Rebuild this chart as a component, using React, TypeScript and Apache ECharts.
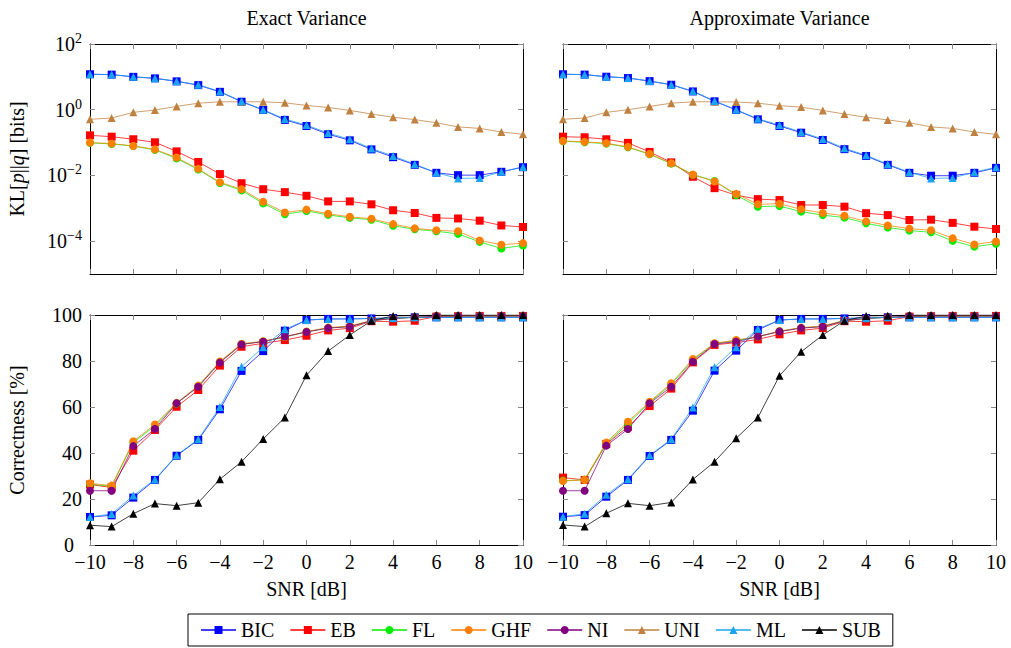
import React, { useEffect, useRef } from "react";
import * as echarts from "echarts";

// SNR grid shared by every panel
const snr = [-10, -9, -8, -7, -6, -5, -4, -3, -2, -1, 0, 1, 2, 3, 4, 5, 6, 7, 8, 9, 10];

// KL divergence [bits], exact variance
const klExactBIC = [12.0, 11.7, 10.0, 9.0, 7.3, 5.6, 3.5, 1.75, 0.98, 0.49, 0.32, 0.18, 0.117, 0.062, 0.036, 0.021, 0.012, 0.0102, 0.0102, 0.0129, 0.0178];
const klExactEB = [0.166, 0.151, 0.126, 0.102, 0.054, 0.0257, 0.011, 0.0058, 0.0038, 0.0031, 0.0024, 0.00162, 0.00162, 0.00132, 0.00087, 0.00072, 0.00051, 0.00049, 0.00042, 0.0003, 0.00027];
const klExactFL = [0.098, 0.091, 0.078, 0.06, 0.033, 0.0151, 0.0059, 0.0035, 0.00141, 0.00066, 0.00083, 0.00063, 0.00051, 0.00045, 0.000295, 0.000229, 0.0002, 0.000166, 0.000095, 0.00006, 0.000074];
const klExactGHF = [0.1, 0.093, 0.079, 0.062, 0.035, 0.0158, 0.0062, 0.0038, 0.00158, 0.00074, 0.00091, 0.00068, 0.00055, 0.00048, 0.00033, 0.000245, 0.000214, 0.0002, 0.000105, 0.000078, 0.000087];
const klExactUNI = [0.51, 0.56, 0.83, 0.98, 1.26, 1.58, 1.74, 1.74, 1.74, 1.62, 1.35, 1.17, 0.95, 0.74, 0.59, 0.5, 0.4, 0.3, 0.27, 0.21, 0.178];
const klExactML = [12.0, 11.7, 10.0, 9.1, 7.4, 5.75, 3.6, 1.8, 1.0, 0.52, 0.34, 0.195, 0.126, 0.066, 0.039, 0.022, 0.012, 0.0081, 0.0083, 0.0129, 0.0182];

// KL divergence [bits], approximate variance
const klApproxBIC = [12.0, 11.7, 10.1, 9.2, 7.4, 5.75, 3.6, 1.8, 0.98, 0.51, 0.32, 0.2, 0.12, 0.063, 0.039, 0.021, 0.012, 0.0098, 0.0098, 0.012, 0.017];
const klApproxEB = [0.151, 0.145, 0.126, 0.098, 0.052, 0.025, 0.0091, 0.0041, 0.0025, 0.0019, 0.00178, 0.00126, 0.00126, 0.00112, 0.00071, 0.00062, 0.00044, 0.00045, 0.00036, 0.000275, 0.000234];
const klApproxFL = [0.11, 0.102, 0.093, 0.072, 0.044, 0.0229, 0.0105, 0.0068, 0.0025, 0.00112, 0.00117, 0.00079, 0.00062, 0.00052, 0.00035, 0.00026, 0.00021, 0.000186, 0.000102, 0.000068, 0.000083];
const klApproxGHF = [0.112, 0.105, 0.095, 0.074, 0.045, 0.0234, 0.0107, 0.0065, 0.00275, 0.00132, 0.00138, 0.00093, 0.00072, 0.00059, 0.0004, 0.0003, 0.00024, 0.000214, 0.000123, 0.000079, 0.000098];
const klApproxUNI = [0.51, 0.56, 0.83, 1.0, 1.26, 1.58, 1.74, 1.74, 1.72, 1.58, 1.33, 1.2, 0.95, 0.74, 0.59, 0.49, 0.4, 0.3, 0.27, 0.21, 0.178];
const klApproxML = [12.0, 11.7, 10.1, 9.3, 7.5, 5.8, 3.7, 1.85, 1.0, 0.53, 0.34, 0.21, 0.128, 0.067, 0.041, 0.022, 0.0125, 0.0081, 0.0084, 0.0125, 0.0178];

// Correctness [%], exact variance
const corExactBIC = [12.2, 12.9, 20.6, 28.3, 38.8, 45.7, 59.0, 75.7, 84.3, 93.2, 97.8, 98.3, 98.3, 98.5, 98.7, 99.0, 99.0, 99.0, 99.0, 99.0, 99.0];
const corExactEB = [26.3, 25.0, 41.0, 50.0, 60.1, 67.4, 78.0, 86.2, 87.7, 89.1, 91.0, 93.3, 94.3, 97.3, 97.1, 97.5, 99.3, 99.5, 99.6, 99.6, 99.6];
const corExactFL = [26.5, 25.5, 44.5, 51.8, 61.5, 69.0, 79.5, 87.3, 88.5, 90.4, 92.7, 94.4, 95.0, 97.5, 98.5, 99.0, 99.5, 99.6, 99.6, 99.6, 99.6];
const corExactGHF = [26.8, 25.8, 45.1, 52.4, 61.8, 69.3, 79.8, 87.5, 88.6, 90.5, 92.8, 94.5, 95.2, 97.6, 98.6, 99.0, 99.5, 99.6, 99.6, 99.6, 99.6];
const corExactNI = [23.6, 23.6, 43.0, 50.5, 61.6, 68.8, 79.3, 87.2, 88.4, 90.6, 92.6, 94.3, 94.9, 97.5, 98.5, 99.0, 99.5, 99.6, 99.6, 99.6, 99.6];
const corExactML = [12.2, 13.5, 21.5, 28.5, 39.0, 46.0, 60.0, 77.5, 86.0, 93.8, 97.8, 98.3, 98.3, 98.5, 98.7, 99.0, 99.0, 99.0, 99.0, 99.0, 99.0];
const corExactSUB = [8.6, 8.0, 13.6, 18.0, 17.1, 18.4, 28.6, 36.2, 46.1, 55.4, 73.8, 84.3, 91.3, 97.5, 99.6, 99.7, 100, 100, 100, 100, 100];

// Correctness [%], approximate variance
const corApproxBIC = [12.3, 13.0, 21.0, 28.3, 38.7, 45.7, 58.4, 75.8, 84.5, 93.5, 97.8, 98.3, 98.3, 98.5, 98.7, 99.0, 99.0, 99.0, 99.0, 99.0, 99.0];
const corApproxEB = [29.3, 28.3, 43.9, 51.4, 60.4, 68.0, 79.4, 87.0, 88.0, 89.4, 91.6, 93.3, 94.3, 97.3, 97.1, 97.5, 99.3, 99.5, 99.6, 99.6, 99.6];
const corApproxFL = [28.0, 28.3, 44.0, 52.8, 62.0, 69.8, 80.5, 87.5, 88.9, 90.5, 92.9, 94.4, 95.0, 97.5, 98.5, 99.0, 99.5, 99.6, 99.6, 99.6, 99.6];
const corApproxGHF = [27.8, 28.3, 44.6, 53.6, 62.3, 70.3, 80.9, 87.7, 89.1, 90.6, 93.0, 94.5, 95.2, 97.6, 98.6, 99.0, 99.5, 99.6, 99.6, 99.6, 99.6];
const corApproxNI = [23.6, 23.6, 43.2, 50.4, 61.6, 68.8, 79.7, 87.4, 88.4, 90.6, 92.8, 94.3, 94.9, 97.5, 98.5, 99.0, 99.5, 99.6, 99.6, 99.6, 99.6];
const corApproxML = [12.3, 13.6, 21.8, 28.6, 39.0, 46.0, 59.8, 77.3, 86.0, 94.0, 97.8, 98.3, 98.3, 98.5, 98.7, 99.0, 99.0, 99.0, 99.0, 99.0, 99.0];
const corApproxSUB = [8.7, 8.0, 13.8, 18.1, 17.1, 18.5, 28.5, 36.2, 46.4, 55.4, 73.6, 84.0, 91.3, 97.5, 99.6, 99.7, 100, 100, 100, 100, 100];

const xTicks = [-10, -8, -6, -4, -2, 0, 2, 4, 6, 8, 10];
const klExponents = [-4, -2, 0, 2];
const correctnessTicks = [0, 20, 40, 60, 80, 100];

const panelTitles = ["Exact Variance", "Approximate Variance"];
const methodOrder = ["BIC", "EB", "FL", "GHF", "NI", "UNI", "ML", "SUB"];

const FONT = "'Liberation Serif', 'DejaVu Serif', serif";
const FS = 20;

const methodStyle: Record<string, { color: string; symbol: string; size: number }> = {
  BIC: { color: "#0000ff", symbol: "rect", size: 8 },
  EB: { color: "#ff0000", symbol: "rect", size: 8 },
  FL: { color: "#00ee00", symbol: "circle", size: 8 },
  GHF: { color: "#ff8000", symbol: "circle", size: 8 },
  NI: { color: "#800080", symbol: "circle", size: 8 },
  UNI: { color: "#bf8040", symbol: "triangle", size: 8 },
  ML: { color: "#18a4f0", symbol: "triangle", size: 8 },
  SUB: { color: "#000000", symbol: "triangle", size: 8 },
};

// per panel: method -> values (panels 0,1 are KL; 2,3 are correctness)
const panelData: Record<string, number[]>[] = [
  { BIC: klExactBIC, EB: klExactEB, FL: klExactFL, GHF: klExactGHF, UNI: klExactUNI, ML: klExactML },
  { BIC: klApproxBIC, EB: klApproxEB, FL: klApproxFL, GHF: klApproxGHF, UNI: klApproxUNI, ML: klApproxML },
  { BIC: corExactBIC, EB: corExactEB, FL: corExactFL, GHF: corExactGHF, NI: corExactNI, ML: corExactML, SUB: corExactSUB },
  { BIC: corApproxBIC, EB: corApproxEB, FL: corApproxFL, GHF: corApproxGHF, NI: corApproxNI, ML: corApproxML, SUB: corApproxSUB },
];

const GRID_LEFT = [90, 563];
const GRID_TOP = [44, 315];
const GRID_W = 433;
const GRID_H = 230;

const minusSign = (v: number) => (v < 0 ? "\u2212" + Math.abs(v) : String(v));

export default function App() {
  const ref = useRef<HTMLDivElement>(null);

  useEffect(() => {
    document.body.style.margin = "0";
    if (!ref.current) return;
    const chart = echarts.init(ref.current, undefined, { renderer: "svg" });

    const grids: any[] = [];
    const xAxes: any[] = [];
    const yAxes: any[] = [];
    const series: any[] = [];

    const tickStyle = { inside: true, length: 5, lineStyle: { color: "#888", width: 1 } };
    const lineStyle = { lineStyle: { color: "#000", width: 1 } };
    const labelText = { fontFamily: FONT, fontSize: FS, color: "#000" };

    for (let g = 0; g < 4; g++) {
      const col = g % 2;
      const row = g < 2 ? 0 : 1;
      const isKL = row === 0;
      grids.push({ left: GRID_LEFT[col], top: GRID_TOP[row], width: GRID_W, height: GRID_H, containLabel: false });

      xAxes.push({
        type: "value",
        gridIndex: g,
        position: "bottom",
        min: -10,
        max: 10,
        interval: 2,
        splitLine: { show: false },
        axisLine: { show: true, onZero: false, ...lineStyle },
        axisTick: { ...tickStyle, customValues: xTicks },
        axisLabel: {
          show: !isKL,
          ...labelText,
          lineHeight: 16,
          margin: 9,
          customValues: xTicks,
          formatter: (v: number) => minusSign(v),
        },
        name: isKL ? "" : "SNR [dB]",
        nameLocation: "middle",
        nameGap: 34,
        nameTextStyle: labelText,
      });

      const yTicks = isKL ? klExponents : correctnessTicks;
      yAxes.push({
        type: "value",
        gridIndex: g,
        min: isKL ? -5 : 0,
        max: isKL ? 2 : 100,
        interval: isKL ? undefined : 20,
        splitLine: { show: false },
        position: "left",
        axisLine: { show: true, onZero: false, ...lineStyle },
        axisTick: { ...tickStyle, customValues: yTicks },
        axisLabel: {
          show: col === 0,
          ...labelText,
          lineHeight: 16,
          margin: 8,
          customValues: yTicks,
          // the zero label sits in the corner next to "−10", keep it clear of it
          formatter: isKL
            ? (v: number) => `{b|10}{s|${minusSign(Math.round(v))}}`
            : (v: number) => (v === 0 ? "{z|0}" : String(v)),
          rich: isKL
            ? {
                b: { fontFamily: FONT, fontSize: FS, color: "#000" },
                s: { fontFamily: FONT, fontSize: 14, color: "#000", padding: [0, 0, 11, 0] },
              }
            : {
                z: { fontFamily: FONT, fontSize: FS, color: "#000", padding: [0, 8, 0, 0] },
              },
        },
        name: col === 0 ? (isKL ? "KL[{i|p}||{i|q}] [bits]" : "Correctness [%]") : "",
        nameLocation: "middle",
        nameRotate: 90,
        nameGap: 63,
        nameTextStyle: {
          ...labelText,
          rich: { i: { fontFamily: FONT, fontSize: FS, fontStyle: "italic", color: "#000" } },
        },
      });
    }

    // mirrored axes carrying the ticks on the top and right edges
    for (let g = 0; g < 4; g++) {
      const isKL = g < 2;
      xAxes.push({
        type: "value",
        gridIndex: g,
        position: "top",
        min: -10,
        max: 10,
        interval: 2,
        splitLine: { show: false },
        axisLine: { show: true, onZero: false, ...lineStyle },
        axisTick: { ...tickStyle, customValues: xTicks },
        axisLabel: { show: false },
      });
      yAxes.push({
        type: "value",
        gridIndex: g,
        position: "right",
        min: isKL ? -5 : 0,
        max: isKL ? 2 : 100,
        splitLine: { show: false },
        axisLine: { show: true, onZero: false, ...lineStyle },
        axisTick: { ...tickStyle, customValues: isKL ? klExponents : correctnessTicks },
        axisLabel: { show: false },
      });
    }

    for (let g = 0; g < 4; g++) {
      const isKL = g < 2;
      const data = panelData[g];
      for (const name of methodOrder) {
        const vals = data[name];
        if (!vals) continue;
        const st = methodStyle[name];
        series.push({
          type: "line",
          name,
          xAxisIndex: g,
          yAxisIndex: g,
          data: snr.map((x, i) => [x, isKL ? Math.log10(vals[i]) : vals[i]]),
          symbol: st.symbol,
          symbolSize: st.size,
          showSymbol: true,
          itemStyle: { color: st.color },
          lineStyle: { color: st.color, width: 1, opacity: 0.75 },
          emphasis: { disabled: true },
        });
      }
    }

    chart.setOption({
      animation: false,
      backgroundColor: "#fff",
      grid: grids,
      xAxis: xAxes,
      yAxis: yAxes,
      series,
      legend: {
        data: methodOrder,
        left: 188,
        bottom: 2,
        orient: "horizontal",
        itemWidth: 35,
        itemHeight: 10,
        itemGap: 15,
        padding: [6, 12],
        borderColor: "#000",
        borderWidth: 1,
        borderRadius: 0,
        textStyle: { fontFamily: FONT, fontSize: FS, color: "#000" },
      },
      graphic: panelTitles.map((t, i) => ({
        type: "text",
        x: GRID_LEFT[i] + GRID_W / 2,
        y: 18,
        style: {
          text: t,
          fontFamily: FONT,
          fontSize: FS,
          fill: "#000",
          align: "center",
          verticalAlign: "middle",
        },
      })),
    });

    return () => chart.dispose();
  }, []);

  return <div ref={ref} style={{ position: "fixed", left: 0, top: 0, width: 1011, height: 648 }} />;
}
